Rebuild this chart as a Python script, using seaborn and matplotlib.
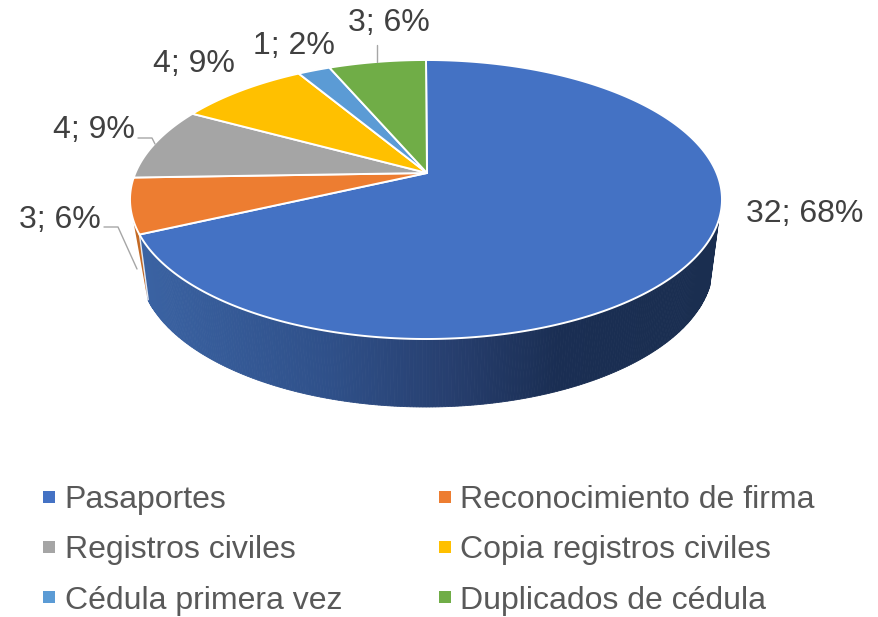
import matplotlib
matplotlib.use("Agg")
import matplotlib.pyplot as plt
from matplotlib.lines import Line2D
import numpy as np
import seaborn as sns

categories = ["Pasaportes", "Reconocimiento de firma", "Registros civiles",
              "Copia registros civiles", "Cédula primera vez", "Duplicados de cédula"]
values = [32, 3, 4, 4, 1, 3]
colors = ["#4472C4", "#ED7D31", "#A5A5A5", "#FFC000", "#5B9BD5", "#70AD47"]

sns.set_theme(style="white")
plt.rcParams["font.family"] = ["Liberation Sans", "DejaVu Sans"]
palette = sns.color_palette(colors)

# top face ellipse, bottom rim ellipse, apex is off centre because of perspective
cx, cy, a, b = 426, 199.5, 296, 139.5
bot_cy, bot_a, bot_b = 265, 287, 142
p = (cy - 173) / b


def top_face(theta):
    # theta is clockwise from 12 o'clock, in radians
    u = np.sin(theta)
    v = np.cos(theta)
    d = 1 + p * v
    return cx + a * u * np.sqrt(1 - p**2) / d, cy - b * (v + p) / d


def bottom_rim(x, y):
    return cx + (x - cx) * bot_a / a, bot_cy + (y - cy) * bot_b / b


fig, ax = plt.subplots(figsize=(8.79, 6.17), dpi=100)
fig.subplots_adjust(0, 0, 1, 1)
ax.set_xlim(0, 879)
ax.set_ylim(617, 0)
ax.axis("off")

total = sum(values)
edges = 2 * np.pi * np.cumsum([0] + values) / total

# side of the first slice, shaded from left to right
side_t = np.linspace(edges[1], np.pi * 0.606, 260)
sx, sy = top_face(side_t)
bx, by = bottom_rim(sx, sy)
shade_x = [146, 330, 450, 560, 720]
shade = np.array([matplotlib.colors.to_rgb(c) for c in ["#3A62A2", "#2F5089", "#273F6F", "#1A2E53", "#1A2E50"]])
for i in range(len(side_t) - 1):
    xm = (sx[i] + sx[i + 1]) / 2
    col = [np.interp(xm, shade_x, shade[:, k]) for k in range(3)]
    ax.fill([sx[i], sx[i + 1], bx[i + 1], bx[i]], [sy[i], sy[i + 1], by[i + 1], by[i]],
            color=col, lw=0.6, zorder=1)

# sliver of the second slice that shows at the left
ox, oy = top_face(np.linspace(edges[1], edges[1] + 0.105, 12))
tipx, tipy = bottom_rim(ox[0], oy[0])
ax.fill(list(ox) + [tipx - 1], list(oy) + [tipy - 3], color="#C46A25", lw=0, zorder=1.5)
ax.plot([ox[0], tipx], [oy[0], tipy - 1], color="#E4E8F0", lw=1.0, zorder=1.7)

# top face
for i, v in enumerate(values):
    t = np.linspace(edges[i], edges[i + 1], max(int(v * 20), 20))
    x, y = top_face(t)
    ax.fill(np.r_[cx + 1, x], np.r_[173, y], color=palette[i],
            ec="white", lw=1.4, joinstyle="round", zorder=3)

# data labels
label_pos = [(805, 214), (60, 220), (94, 130), (193.5, 64), (293.5, 46), (388.5, 23)]
for (lx, ly), v in zip(label_pos, values):
    ax.text(lx, ly, f"{v}; {round(100 * v / total)}%", ha="center", va="center",
            fontsize=23, color="#404040", zorder=5)

# leader lines
ax.plot([104, 118, 137], [227, 227, 269], color="#A6A6A6", lw=1.0, zorder=4)
ax.plot([138, 152, 155], [138, 138, 144], color="#A6A6A6", lw=1.0, zorder=4)
ax.plot([377, 377], [45, 62], color="#A6A6A6", lw=1.0, zorder=4)

# legend, column by column
order = [0, 2, 4, 1, 3, 5]
handles = [Line2D([], [], ls="", marker="s", ms=8.3, mew=0, color=palette[i]) for i in order]
ax.legend(handles, [categories[i] for i in order], ncol=2, frameon=False,
          loc="upper left", bbox_to_anchor=(41.5 / 879, 1 - 485 / 617),
          bbox_transform=ax.transAxes, fontsize=23, labelcolor="#595959",
          handlelength=0.5, handletextpad=0.23, labelspacing=0.635, columnspacing=2.95,
          borderpad=0, borderaxespad=0)

fig.savefig("out.png", dpi=100)
